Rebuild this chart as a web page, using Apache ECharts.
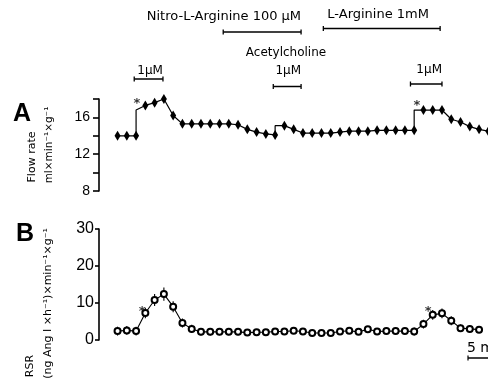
<!DOCTYPE html>
<html>
<head>
<meta charset="utf-8">
<script src="https://cdn.jsdelivr.net/npm/echarts@6/dist/echarts.min.js"></script>
<style>html,body{margin:0;padding:0;background:#fff}#c{width:488px;height:385px}</style>
</head>
<body>
<div id="c"></div>
<script>
// ---- data ----
// time index (1 point per minute)
const flowRate = [14.0,14.0,14.0,17.3,17.6,18.0,16.2,15.3,15.3,15.3,15.3,15.3,15.3,15.2,14.7,14.4,14.2,14.1,15.1,14.7,14.3,14.3,14.3,14.3,14.4,14.5,14.5,14.5,14.6,14.6,14.6,14.6,14.6,16.8,16.8,16.8,15.8,15.5,15.0,14.7,14.5];
// instantaneous step values at infusion start: [time, value]
const flowSteps = [[2,16.8],[17,15.1],[32,16.8]];
const rsr = [2.4,2.6,2.4,7.3,10.8,12.4,9.0,4.6,3.0,2.2,2.2,2.2,2.2,2.2,2.0,2.1,2.1,2.3,2.3,2.5,2.3,1.9,1.9,1.9,2.3,2.5,2.2,2.9,2.3,2.4,2.4,2.4,2.3,4.3,6.8,7.2,5.2,3.2,3.0,2.8];
const rsrErr = [1.2,1.2,1.2,1.4,1.6,1.8,1.5,1.2,1.1,1.0,1.0,0.9,0.9,0.9,0.8,0.6,0.6,0.6,0.6,0.6,0.6,0.6,0.6,0.6,0.6,0.6,0.6,0.6,0.6,0.6,0.6,0.6,1.1,1.2,1.3,1.3,1.2,1.0,1.0,0.9];
const starsA = [[2.1,17.8],[32.3,17.6]];
const starsB = [[2.65,8.6],[33.5,8.6]];
const treatLabels = ['Nitro-L-Arginine 100 µM','L-Arginine 1mM','1µM','1µM','1µM'];
const treatStart = [11.4,22.2,1.8,16.8,31.6];
const treatEnd = [19.8,34.8,4.9,19.8,35.0];
const flowTicks = [8,12,16];
const rsrTicks = [0,10,20,30];

// ---- layout (pixels) ----
const treatBarY = [32,28.5,79,86.5,84];
const treatTextY = [17,15,70.5,70.5,70];
const treatAlign = ['right','left','right','right','right'];
const treatFont = [13,13,12,12,12];
const FONT = '"DejaVu Sans", sans-serif';

const chart = echarts.init(document.getElementById('c'), null, {renderer:'canvas'});

const flowData = [];
flowRate.forEach((v,i)=>{
  flowData.push([i,v]);
  const s = flowSteps.find(d=>d[0]===i);
  if (s) flowData.push({value:[s[0],s[1]], symbol:'none'});
});
const rsrData = rsr.map((v,i)=>[i,v]);

const axisLineY = {show:true, onZero:false, lineStyle:{color:'#000', width:1.6}};

chart.setOption({
  animation:false,
  backgroundColor:'#fff',
  grid:[
    {left:99, top:99, height:92, width:398.6, containLabel:false, outerBoundsMode:'none'},
    {left:99, top:229, height:111, width:398.6, containLabel:false, outerBoundsMode:'none'}
  ],
  xAxis:[
    {gridIndex:0, type:'value', min:-2, max:41, show:false},
    {gridIndex:1, type:'value', min:-2, max:41, show:false}
  ],
  yAxis:[
    {gridIndex:0, type:'value', min:8, max:18, interval:2, position:'left',
      axisLine:axisLineY, splitLine:{show:false},
      axisTick:{show:true, length:6, lineStyle:{color:'#000', width:1.6}},
      axisLabel:{color:'#000', fontSize:14, fontFamily:'"Liberation Sans", Arial, sans-serif', margin:9,
        formatter:v=>flowTicks.includes(v)?String(v):''}},
    {gridIndex:1, type:'value', min:0, max:30, interval:10, position:'left',
      axisLine:axisLineY, splitLine:{show:false},
      axisTick:{show:true, length:4, lineStyle:{color:'#000', width:1.6}},
      axisLabel:{color:'#000', fontSize:16, fontFamily:'"Liberation Sans", Arial, sans-serif', margin:5,
        formatter:v=>rsrTicks.includes(v)?String(v):''}}
  ],
  series:[
    {type:'line', xAxisIndex:0, yAxisIndex:0, data:flowData,
      symbol:'diamond', symbolSize:[6,10], showAllSymbol:true,
      lineStyle:{color:'#000', width:1.2}, itemStyle:{color:'#000'}},
    {type:'custom', xAxisIndex:1, yAxisIndex:1, z:1,
      data: rsr.map((v,i)=>[i,v,rsrErr[i]]),
      renderItem:(params, api)=>{
        const x=api.value(0), y=api.value(1), e=api.value(2);
        const p1=api.coord([x,y-e]), p2=api.coord([x,y+e]);
        return {type:'line', shape:{x1:p1[0],y1:p1[1],x2:p2[0],y2:p2[1]}, style:{stroke:'#000', lineWidth:1.1}};
      }},
    {type:'line', xAxisIndex:1, yAxisIndex:1, data:rsrData, z:3,
      symbol:'emptyCircle', symbolSize:6, showAllSymbol:true,
      lineStyle:{color:'#000', width:1.1}, itemStyle:{color:'#000', borderWidth:1.1}},
    {type:'scatter', xAxisIndex:0, yAxisIndex:0, data:starsA, symbolSize:0,
      label:{show:true, position:'inside', formatter:'*', color:'#000', fontSize:13, fontWeight:'bold', fontFamily:FONT, offset:[0,3]}},
    {type:'scatter', xAxisIndex:1, yAxisIndex:1, data:starsB, symbolSize:0,
      label:{show:true, position:'inside', formatter:'*', color:'#000', fontSize:13, fontWeight:'bold', fontFamily:FONT, offset:[0,3]}},
    {type:'custom', xAxisIndex:0, yAxisIndex:0, clip:false,
      data: treatStart.map((s,i)=>[s, treatEnd[i], i]),
      encode:{x:[0,1]},
      renderItem:(params, api)=>{
        const i = api.value(2);
        const xs = api.coord([api.value(0), 10])[0];
        const xe = api.coord([api.value(1), 10])[0];
        const y = treatBarY[i];
        const tx = treatAlign[i]==='right' ? xe : xs+4;
        return {type:'group', children:[
          {type:'line', shape:{x1:xs,y1:y,x2:xe,y2:y}, style:{stroke:'#000', lineWidth:1.5}},
          {type:'line', shape:{x1:xs,y1:y-2.5,x2:xs,y2:y+2.5}, style:{stroke:'#000', lineWidth:1.3}},
          {type:'line', shape:{x1:xe,y1:y-2.5,x2:xe,y2:y+2.5}, style:{stroke:'#000', lineWidth:1.3}},
          {type:'text', x:tx, y:treatTextY[i], style:{text:treatLabels[i], fill:'#000', font:treatFont[i]+'px '+FONT, textAlign:treatAlign[i], textVerticalAlign:'middle'}}
        ]};
      }}
  ],
  graphic:[
    {type:'text', x:286, y:53, style:{text:'Acetylcholine', fill:'#000', font:'12px '+FONT, textAlign:'center', textVerticalAlign:'middle'}},
    {type:'text', x:22, y:114, style:{text:'A', fill:'#000', font:'bold 25px "Liberation Sans", Arial, sans-serif', textAlign:'center', textVerticalAlign:'middle'}},
    {type:'text', x:25, y:234, style:{text:'B', fill:'#000', font:'bold 25px "Liberation Sans", Arial, sans-serif', textAlign:'center', textVerticalAlign:'middle'}},
    {type:'text', x:32, y:157, rotation:Math.PI/2, style:{text:'Flow rate', fill:'#000', font:'11px '+FONT, textAlign:'center', textVerticalAlign:'middle'}},
    {type:'text', x:49, y:145, rotation:Math.PI/2, style:{text:'ml×min⁻¹×g⁻¹', fill:'#000', font:'10.5px '+FONT, textAlign:'center', textVerticalAlign:'middle'}},
    {type:'text', x:30, y:366, rotation:Math.PI/2, style:{text:'RSR', fill:'#000', font:'11px '+FONT, textAlign:'center', textVerticalAlign:'middle'}},
    {type:'text', x:48, y:228, rotation:Math.PI/2, style:{text:'(ng Ang I ×h⁻¹)×min⁻¹×g⁻¹', fill:'#000', font:'11px '+FONT, textAlign:'right', textVerticalAlign:'middle'}},
    {type:'text', x:467, y:348, style:{text:'5 min', fill:'#000', font:'14px '+FONT, textAlign:'left', textVerticalAlign:'middle'}},
    {type:'line', shape:{x1:468,y1:358,x2:520,y2:358}, style:{stroke:'#000', lineWidth:1.5}},
    {type:'line', shape:{x1:468,y1:355.5,x2:468,y2:360.5}, style:{stroke:'#000', lineWidth:1.2}}
  ]
});
</script>
</body>
</html>
